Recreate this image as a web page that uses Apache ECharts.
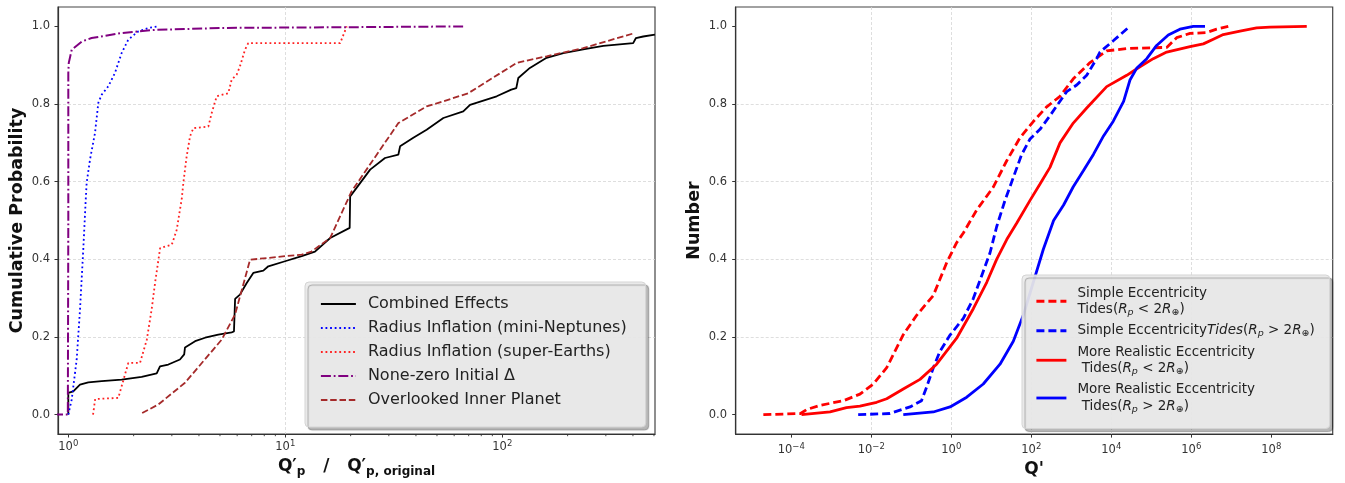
<!DOCTYPE html>
<html>
<head>
<meta charset="utf-8">
<script src="https://cdn.jsdelivr.net/npm/echarts@6/dist/echarts.min.js"></script>
<style>
  html, body { margin: 0; padding: 0; background: #fff; }
  #chart { width: 1345px; height: 483px; }
</style>
</head>
<body>
<div id="chart"></div>
<script>
// left panel: cumulative probability vs Q'p / Q'p,original  ([ratio, prob])
const combinedEffects = [[1.0,0],[1.0,0.056],[1.054,0.06],[1.132,0.077],[1.236,0.083],[1.425,0.086],[1.762,0.09],
  [2.178,0.097],[2.555,0.106],[2.646,0.124],[2.89,0.129],[3.27,0.142],[3.42,0.155],[3.45,0.173],[3.84,0.189],
  [4.27,0.198],[4.91,0.206],[5.66,0.212],[5.80,0.214],[5.87,0.298],[6.18,0.309],[6.64,0.339],[7.12,0.365],
  [7.92,0.371],[8.35,0.382],[9.97,0.395],[11.9,0.408],[13.7,0.42],[16.1,0.455],[19.8,0.481],[19.9,0.562],
  [21.3,0.584],[24.6,0.631],[28.8,0.661],[33.2,0.67],[33.8,0.691],[38.9,0.713],[44.8,0.734],[53.5,0.764],
  [66.1,0.781],[71,0.798],[94.2,0.82],[110,0.837],[116,0.841],[118.5,0.867],[134,0.893],[160,0.919],
  [191,0.931],[236,0.941],[292,0.95],[401,0.957],[413,0.97],[446,0.974],[505,0.979]];
const miniNeptunes = [[1.0,0],[1.037,0.039],[1.093,0.142],[1.132,0.27],[1.172,0.425],[1.203,0.553],[1.215,0.597],
  [1.259,0.657],[1.328,0.726],[1.375,0.803],[1.425,0.824],[1.53,0.846],[1.64,0.88],[1.76,0.931],[1.89,0.966],
  [2.1,0.987],[2.34,0.996],[2.6,1.0]];
const superEarths = [[1.30,0],[1.33,0.04],[1.70,0.043],[1.89,0.133],[2.14,0.133],[2.30,0.193],[2.42,0.27],
  [2.51,0.339],[2.65,0.429],[3.0,0.438],[3.16,0.476],[3.27,0.528],[3.33,0.554],[3.39,0.597],[3.51,0.665],
  [3.64,0.717],[3.77,0.738],[4.42,0.742],[4.58,0.777],[4.83,0.82],[5.46,0.828],[5.66,0.863],[5.97,0.876],
  [6.18,0.897],[6.52,0.94],[6.75,0.957],[17.9,0.957],[19.2,1.0]];
const nonZeroDelta = [[0.85,0],[0.995,0],[1.0,0.5],[1.0,0.88],[1.005,0.906],[1.037,0.94],[1.153,0.961],
  [1.28,0.97],[1.76,0.983],[2.5,0.991],[5.1,0.996],[20,0.998],[66,1.0]];
const innerPlanet = [[2.19,0.004],[2.60,0.026],[3.45,0.082],[5.09,0.193],[5.87,0.258],[6.88,0.399],[9.97,0.408],
  [11.9,0.412],[13.2,0.42],[16.1,0.455],[20.2,0.575],[33.2,0.751],[44.8,0.794],[53.5,0.807],[69.7,0.828],
  [116.5,0.906],[160,0.923],[236,0.944],[408,0.983]];

// right panel: number vs Q'  ([Q', fraction])
const simpleSmall = [[2.0e-5,0],[1.7e-4,0.003],[2.4e-4,0.013],[5.2e-4,0.024],[2.0e-3,0.036],[5.2e-3,0.053],
  [0.0112,0.079],[0.0243,0.121],[0.063,0.206],[0.136,0.256],[0.355,0.307],[0.77,0.392],[1.36,0.443],[2.0,0.468],
  [4.3,0.527],[11.2,0.586],[24.3,0.654],[52,0.713],[112,0.755],[243,0.793],[522,0.82],[1120,0.865],[2940,0.907],
  [7670,0.937],[24300,0.943],[2.43e5,0.946],[4.3e5,0.971],[9.3e5,0.982],[2.4e6,0.984],[4.3e6,0.993],[8.4e6,1.0]];
const simpleLarge = [[4.7e-3,0],[0.029,0.003],[0.093,0.02],[0.18,0.036],[0.24,0.07],[0.355,0.121],[0.52,0.163],
  [0.93,0.205],[2.0,0.248],[3.55,0.299],[5.75,0.358],[9.3,0.417],[13.6,0.484],[22,0.552],[35.5,0.611],
  [57.5,0.67],[93,0.71],[165,0.735],[293,0.77],[431,0.795],[767,0.832],[1365,0.849],[2430,0.874],[4300,0.917],
  [5200,0.934],[11200,0.963],[26600,0.997]];
const realisticSmall = [[1.8e-4,0],[9.3e-4,0.007],[2.4e-3,0.018],[5.2e-3,0.022],[0.0136,0.032],[0.0243,0.041],
  [0.063,0.066],[0.165,0.091],[0.43,0.13],[1.36,0.197],[3.55,0.273],[7.7,0.341],[13.6,0.4],[24.3,0.451],
  [43,0.493],[93,0.552],[165,0.594],[293,0.637],[522,0.70],[1120,0.751],[2430,0.79],[7670,0.845],[24300,0.874],
  [52000,0.896],[1.12e5,0.917],[2.43e5,0.934],[9.3e5,0.948],[2.0e6,0.955],[3.55e6,0.967],[6.3e6,0.979],
  [1.65e7,0.988],[4.3e7,0.996],[9.3e7,0.998],[7.7e8,1.0]];
const realisticLarge = [[0.063,0],[0.355,0.007],[0.93,0.02],[2.43,0.045],[6.3,0.079],[16.5,0.13],[35.5,0.189],
  [63,0.256],[112,0.341],[200,0.426],[361,0.5],[642,0.54],[1120,0.587],[2000,0.628],[3600,0.671],[6400,0.718],
  [11200,0.756],[20300,0.807],[29300,0.862],[43000,0.892],[77000,0.917],[1.36e5,0.951],[2.66e5,0.978],
  [5.2e5,0.993],[1.12e6,1.0],[2.2e6,1.0]];

// ticks (x ticks are powers of ten)
const leftXTicks = [0, 1, 2];
const leftMinorTicks = [2,3,4,5,6,7,8,9,20,30,40,50,60,70,80,90,200,300,400,500];
const rightXTicks = [-4, -2, 0, 2, 4, 6, 8];
const yTicks = [0, 0.2, 0.4, 0.6, 0.8, 1.0];

const FONT = 'DejaVu Sans';
const chart = echarts.init(document.getElementById('chart'));

function logPts(pts) {
  return pts.map(p => [Math.log10(p[0]), p[1]]);
}

function lineSeries(name, pts, color, width, dash, idx) {
  return {
    type: 'line', name, xAxisIndex: idx, yAxisIndex: idx,
    data: logPts(pts), symbol: 'none', showSymbol: false,
    lineStyle: { color, width, type: dash },
    itemStyle: { color },
    emphasis: { disabled: true },
  };
}

function powLabel(v) {
  const n = Math.round(v);
  return '{b|10}{e|' + (n < 0 ? '\u2212' + (-n) : n) + '}';
}
const powRich = {
  b: { fontSize: 11.5, color: '#333', fontFamily: FONT, lineHeight: 16 },
  e: { fontSize: 8.5, color: '#333', fontFamily: FONT, lineHeight: 9, verticalAlign: 'top' },
};

const gridLine = { show: true, showMinLine: false, showMaxLine: false,
  lineStyle: { color: '#d6d6d6', type: [3, 2], width: 0.8 } };

function xAxis(idx, min, max, ticks, margin, name, gap) {
  return {
    gridIndex: idx, type: 'value', min, max,
    axisLine: { show: true, onZero: false, lineStyle: { color: '#333', width: 1.2 } },
    axisTick: { show: true, length: 3.5, customValues: ticks, lineStyle: { color: '#333' } },
    axisLabel: { margin, customValues: ticks, formatter: powLabel, rich: powRich },
    splitLine: gridLine,
    name, nameLocation: 'middle', nameGap: gap,
    nameTextStyle: {
      rich: {
        q: { fontSize: 17, fontWeight: 'bold', color: '#111', fontFamily: FONT, lineHeight: 22 },
        s: { fontSize: 12, fontWeight: 'bold', color: '#111', fontFamily: FONT, lineHeight: 12, verticalAlign: 'bottom' },
      },
    },
  };
}

function yAxis(idx, margin, name, gap) {
  return {
    gridIndex: idx, type: 'value', min: -0.05, max: 1.05,
    axisLine: { show: true, onZero: false, lineStyle: { color: '#333', width: 1.2 } },
    axisTick: { show: true, length: 3.5, customValues: yTicks, lineStyle: { color: '#333' } },
    axisLabel: { margin, customValues: yTicks, formatter: v => v.toFixed(1),
      fontSize: 11.5, color: '#333', fontFamily: FONT },
    splitLine: gridLine,
    name, nameLocation: 'middle', nameGap: gap,
    nameTextStyle: { fontSize: 17.5, fontWeight: 'bold', color: '#111', fontFamily: FONT, lineHeight: 20 },
  };
}

const leftNames = ['Combined Effects', 'Radius Inflation (mini-Neptunes)', 'Radius Inflation (super-Earths)',
  'None-zero Initial \u0394', 'Overlooked Inner Planet'];
const rightNames = ['simpleSmall', 'simpleLarge', 'realisticSmall', 'realisticLarge'];
const rightLegendText = {
  simpleSmall: '{n|Simple Eccentricity}\n{n|Tides(}{i|R}{si|p}{n| < 2}{i|R}{s|\u2295}{n|)}',
  simpleLarge: '{n|Simple Eccentricity}{i|Tides}{n|(}{i|R}{si|p}{n| > 2}{i|R}{s|\u2295}{n|)}',
  realisticSmall: '{n|More Realistic Eccentricity}\n{n| Tides(}{i|R}{si|p}{n| < 2}{i|R}{s|\u2295}{n|)}',
  realisticLarge: '{n|More Realistic Eccentricity}\n{n| Tides(}{i|R}{si|p}{n| > 2}{i|R}{s|\u2295}{n|)}',
};

const legendBox = {
  orient: 'vertical', selectedMode: false,
  backgroundColor: 'rgba(236,236,236,0.92)', borderColor: '#d4d4d4', borderWidth: 1, borderRadius: 4,
  shadowColor: 'rgba(0,0,0,0.3)', shadowBlur: 1, shadowOffsetX: 3, shadowOffsetY: 3,
  itemStyle: { color: 'rgba(0,0,0,0)', borderWidth: 0, opacity: 0 },
};

const option = {
  animation: false,
  backgroundColor: '#fff',
  grid: [
    { left: 58, top: 7, width: 597, height: 427, show: true, borderColor: '#444', borderWidth: 1.2, backgroundColor: 'transparent' },
    { left: 735.7, top: 7, width: 597, height: 433.5, show: true, borderColor: '#444', borderWidth: 1.2, backgroundColor: 'transparent' },
  ],
  xAxis: [
    xAxis(0, -0.0475, 2.7037, leftXTicks, 5,
      '{q|Q\u2032}{s|p}{q|   /   Q\u2032}{s|p, original}', 22),
    xAxis(1, -5.39, 9.535, rightXTicks, 8, "{q|Q'}", 21),
  ],
  yAxis: [
    yAxis(0, 8, 'Cumulative Probability', 30),
    yAxis(1, 8.7, 'Number', 26),
  ],
  legend: [
    Object.assign({}, legendBox, {
      left: 305, top: 282, padding: [13, 19, 18, 15], itemGap: 6, itemWidth: 35, itemHeight: 14,
      data: leftNames, lineStyle: { width: 1.8 },
      textStyle: { fontSize: 16, lineHeight: 18, color: '#222', fontFamily: FONT, padding: [0, 0, 0, 7] },
    }),
    Object.assign({}, legendBox, {
      left: 1022, top: 275, padding: [11, 15, 14, 13], itemGap: 6, itemWidth: 30, itemHeight: 14,
      data: rightNames, lineStyle: { width: 2.8 },
      formatter: name => rightLegendText[name],
      textStyle: {
        color: '#222', fontFamily: FONT, padding: [0, 0, 0, 6],
        rich: {
          n: { fontSize: 13.5, lineHeight: 16.5, color: '#222', fontFamily: FONT },
          i: { fontSize: 13.5, lineHeight: 16.5, color: '#222', fontFamily: FONT, fontStyle: 'italic' },
          s: { fontSize: 9.5, lineHeight: 10, color: '#222', fontFamily: FONT, verticalAlign: 'bottom' },
          si: { fontSize: 9.5, lineHeight: 10, color: '#222', fontFamily: FONT, fontStyle: 'italic', verticalAlign: 'bottom' },
        },
      },
    }),
  ],
  series: [
    lineSeries(leftNames[0], combinedEffects, '#000000', 1.8, 'solid', 0),
    lineSeries(leftNames[1], miniNeptunes, '#0000ff', 1.8, [1.8, 2.8], 0),
    lineSeries(leftNames[2], superEarths, '#ff2020', 1.8, [1.8, 2.8], 0),
    lineSeries(leftNames[3], nonZeroDelta, '#800080', 2, [10, 2.8, 1.8, 2.8], 0),
    lineSeries(leftNames[4], innerPlanet, '#a52a2a', 1.8, [6.5, 2.8], 0),
    {
      type: 'custom', name: 'minorTicks', xAxisIndex: 0, yAxisIndex: 0, silent: true, clip: false,
      data: leftMinorTicks.map(v => [Math.log10(v), -0.05]),
      renderItem(params, api) {
        const p = api.coord([api.value(0), -0.05]);
        return { type: 'line', shape: { x1: p[0], y1: p[1], x2: p[0], y2: p[1] + 2.2 },
          style: { stroke: '#333', lineWidth: 0.9 } };
      },
    },
    lineSeries('simpleSmall', simpleSmall, '#ff0000', 2.8, [8, 4], 1),
    lineSeries('simpleLarge', simpleLarge, '#0000ff', 2.8, [8, 4], 1),
    lineSeries('realisticSmall', realisticSmall, '#ff0000', 2.8, 'solid', 1),
    lineSeries('realisticLarge', realisticLarge, '#0000ff', 2.8, 'solid', 1),
  ],
};

chart.setOption(option);
</script>
</body>
</html>
